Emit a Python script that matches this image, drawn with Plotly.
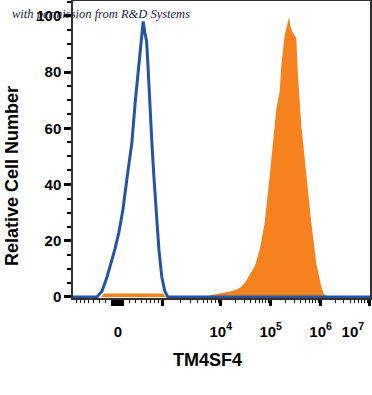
import plotly.graph_objects as go
import math

# Display-scale positions (biexponential-like axis units; 0 = data zero)
blue_x = [-45, -30, -21, -16, -11, -7, -3, 1, 5, 9, 14, 17.5, 20, 21.3, 23, 25.3, 27, 28.7, 29.7, 32, 34, 36, 38, 41, 44, 47, 50, 60, 252.5]
blue_y = [0, 0, 0, 2, 7, 12, 17, 23, 31, 42, 55, 70, 79, 85, 91, 98, 94, 91, 85, 67, 55, 43, 31, 17, 7, 2, 0, 0, 0]

orange_x = [-45, -17, -14, 0, 20, 40, 45, 48, 89, 95, 102, 110, 115, 120, 124, 128, 132, 137, 142, 147, 152,
            155.3, 158.7, 162, 163.7, 167, 169, 171.3, 173, 175.3, 178.7, 180.3, 183.7, 188.7, 193.7, 198.7,
            203.7, 206, 208.7, 252.5]
orange_y = [0, 0, 1.2, 1.2, 1.2, 1.2, 1.2, 0, 0.3, 0.8, 1.3, 1.7, 2.1, 2.8, 3.7, 5.5, 7.9, 10.8, 16.8, 26.4, 43,
            55, 67, 73, 82.5, 93, 96, 99.5, 96, 94, 92, 79, 61, 43, 26.4, 12, 3.7, 1.2, 0.3, 0]

# Axis ticks and labels
NB = "\u00a0"
x_major_vals = [-5, -3, -1, 0, 1, 3, 5, 45, 103, 153, 203, 252]
x_major_text = ["", "", "", "0", "", "", "", "", "10<sup>4</sup>", "10<sup>5</sup>", "10<sup>6</sup>",
                "10<sup>7</sup>" + NB * 8]
y_tick_vals = [0, 20, 40, 60, 80, 100]

decades = [45, 103, 153, 203, 252]
x_minor_vals = [6, 12, 18, 24, 29, 33, 37, 41, -6, -12, -18, -24, -29, -33, -37, -41]
for a, b in zip(decades[:-1], decades[1:]):
    for k in range(2, 10):
        x_minor_vals.append(a + (b - a) * math.log10(k))

XR = [-45, 252.5]
BLUE = "#2554A2"
ORANGE = "#F5821F"
FONT = "Liberation Sans"

fig = go.Figure()
fig.add_trace(go.Scatter(x=orange_x, y=orange_y, mode="lines", fill="tozeroy",
                         line=dict(width=0, color=ORANGE), fillcolor=ORANGE,
                         hoverinfo="skip", showlegend=False))
fig.add_trace(go.Scatter(x=blue_x, y=blue_y, mode="lines",
                         line=dict(width=3, color=BLUE),
                         hoverinfo="skip", showlegend=False, cliponaxis=False))

fig.update_layout(
    width=372, height=395,
    margin=dict(l=73, r=2, t=1, b=97),
    paper_bgcolor="white", plot_bgcolor="white",
    xaxis=dict(range=XR, tickmode="array", tickvals=x_major_vals, ticktext=x_major_text,
               ticks="outside", ticklen=6, tickwidth=3, tickcolor="black",
               minor=dict(tickmode="array", tickvals=x_minor_vals, ticks="outside",
                          ticklen=3, tickwidth=1.2, tickcolor="black"),
               showgrid=False, zeroline=False, showline=True, mirror=True,
               linecolor="#333", linewidth=1.5, ticklabelstandoff=13, automargin=False,
               ticklabeloverflow="allow",
               tickfont=dict(family=FONT, size=15, color="black", weight="bold")),
    yaxis=dict(range=[-0.4, 105.3], tickmode="array", tickvals=y_tick_vals,
               ticks="outside", ticklen=7, tickwidth=3, tickcolor="black", automargin=False,
               minor=dict(dtick=5, ticks="outside", ticklen=4, tickwidth=1.5, tickcolor="black"),
               showgrid=False, zeroline=False, showline=True, mirror=True,
               linecolor="#333", linewidth=1.5,
               tickfont=dict(family=FONT, size=15, color="black", weight="bold")),
)

fig.add_annotation(text="TM4SF4", xref="paper", yref="paper", x=(207 - 73) / 297, y=-62 / 297,
                   xanchor="center", yanchor="middle", showarrow=False,
                   font=dict(family=FONT, size=18, color="black", weight="bold"))
fig.add_annotation(text="Relative Cell Number", xref="paper", yref="paper", x=(12 - 73) / 297,
                   y=(298 - 176) / 297, xanchor="center", yanchor="middle", textangle=-90,
                   showarrow=False, font=dict(family=FONT, size=18, color="black", weight="bold"))
fig.add_annotation(text="with permission from R&D Systems", xref="paper", yref="paper",
                   x=-0.212, y=0.955, xanchor="left", yanchor="middle", showarrow=False,
                   font=dict(family="Liberation Serif", size=12.5, color="#1a1a3a", style="italic"))

fig.write_html("out.html", config={"displayModeBar": False},
               post_script="document.body.style.margin='0';document.body.style.padding='0';")
